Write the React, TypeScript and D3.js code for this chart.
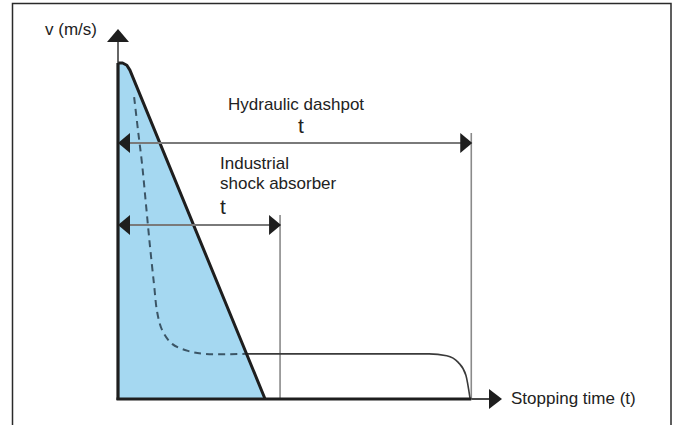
import React, { useEffect, useRef } from "react";
import * as d3 from "d3";

// time (0-100) vs velocity (0-100), arbitrary units
const absorberOutline: Array<[number, number]> = [
  [0, 0],
  [0, 90.8],
  [1.2, 90.8],
  [2.3, 90.2],
  [3.1, 88.9],
  [38.3, 0],
];

const dashpotDashed: Array<[number, number]> = [
  [4.2, 81.6],
  [5.2, 72.7],
  [6.3, 63.2],
  [7.3, 52.4],
  [8.3, 41.6],
  [9.4, 30.8],
  [10.2, 23.5],
  [11.5, 18.6],
  [14.1, 14.9],
  [18.2, 13.0],
  [22.7, 12.2],
  [33.3, 12.2],
];

const dashpotSolid: Array<[number, number]> = [
  [33.6, 12.2],
  [81.0, 12.2],
  [85.6, 11.7],
  [88.6, 9.9],
  [90.6, 6.4],
  [91.7, 0],
];

const stopTimes = [
  { label: ["Hydraulic dashpot"], t: 92, level: 69.2 },
  { label: ["Industrial", "shock absorber"], t: 42.2, level: 47.0 },
];

const axisLabels = { y: "v (m/s)", x: "Stopping time (t)" };

const W = 677;
const H = 425;

export default function App() {
  const svgRef = useRef<SVGSVGElement>(null);

  useEffect(() => {
    if (!svgRef.current) return;
    const svg = d3.select(svgRef.current);
    svg.selectAll("*").remove();

    const x = d3.scaleLinear().domain([0, 100]).range([118, 502]);
    const y = d3.scaleLinear().domain([0, 100]).range([399, 29]);
    const font = "'Liberation Sans', Arial, Helvetica, sans-serif";
    const ink = "#1e1e1e";

    svg.append("rect").attr("width", W).attr("height", H).attr("fill", "#fff");

    // frame
    svg
      .append("rect")
      .attr("x", 12.5)
      .attr("y", 3.5)
      .attr("width", 658.5)
      .attr("height", 440)
      .attr("fill", "none")
      .attr("stroke", "#2a2a2a")
      .attr("stroke-width", 1.5);

    const line = (curve: d3.CurveFactory) =>
      d3
        .line<[number, number]>()
        .x((d) => x(d[0]))
        .y((d) => y(d[1]))
        .curve(curve);

    // blue area
    svg
      .append("path")
      .attr("d", line(d3.curveLinear)(absorberOutline) + "Z")
      .attr("fill", "#a5d8f1")
      .attr("stroke", "none");

    // stop-time guide lines
    stopTimes.forEach((s) => {
      svg
        .append("line")
        .attr("x1", x(s.t))
        .attr("x2", x(s.t))
        .attr("y1", y(s.level) - 10)
        .attr("y2", y(0))
        .attr("stroke", "#8a8a8a")
        .attr("stroke-width", 1.6);
    });

    // dashpot curve
    svg
      .append("path")
      .attr("d", line(d3.curveCatmullRom)(dashpotDashed))
      .attr("fill", "none")
      .attr("stroke", "#3b5566")
      .attr("stroke-width", 2)
      .attr("stroke-dasharray", "7,5");

    svg
      .append("path")
      .attr("d", line(d3.curveMonotoneX)(dashpotSolid))
      .attr("fill", "none")
      .attr("stroke", "#3a3a3a")
      .attr("stroke-width", 1.6);

    // diagonal of the blue triangle
    svg
      .append("path")
      .attr("d", line(d3.curveLinear)(absorberOutline.slice(1)))
      .attr("fill", "none")
      .attr("stroke", ink)
      .attr("stroke-width", 3)
      .attr("stroke-linejoin", "round");

    // axes
    svg
      .append("line")
      .attr("x1", x(0))
      .attr("x2", x(0))
      .attr("y1", y(0) + 1)
      .attr("y2", y(absorberOutline[1][1]))
      .attr("stroke", ink)
      .attr("stroke-width", 3.2);
    svg
      .append("line")
      .attr("x1", x(0))
      .attr("x2", x(0))
      .attr("y1", y(absorberOutline[1][1]))
      .attr("y2", y(100) + 8)
      .attr("stroke", "#333")
      .attr("stroke-width", 1.5);
    svg
      .append("line")
      .attr("x1", x(0) - 1.5)
      .attr("x2", x(stopTimes[0].t))
      .attr("y1", y(0))
      .attr("y2", y(0))
      .attr("stroke", ink)
      .attr("stroke-width", 3.2);
    svg
      .append("line")
      .attr("x1", x(stopTimes[0].t))
      .attr("x2", x(100) - 8)
      .attr("y1", y(0))
      .attr("y2", y(0))
      .attr("stroke", "#333")
      .attr("stroke-width", 1.8);

    // axis arrowheads
    const x0 = x(0);
    const y0 = y(0);
    svg
      .append("path")
      .attr("d", `M${x0},${y(100)} L${x0 + 11},${y(100) + 13} L${x0 - 11},${y(100) + 13}Z`)
      .attr("fill", ink);
    svg
      .append("path")
      .attr("d", `M${x(100)},${y0} L${x(100) - 13},${y0 - 10} L${x(100) - 13},${y0 + 10}Z`)
      .attr("fill", ink);

    // double arrows for stopping times
    stopTimes.forEach((s) => {
      const yy = y(s.level);
      const xe = x(s.t) + 1;
      svg
        .append("line")
        .attr("x1", x0 + 6)
        .attr("x2", xe - 6)
        .attr("y1", yy)
        .attr("y2", yy)
        .attr("stroke", "#7a7a7a")
        .attr("stroke-width", 2);
      svg
        .append("path")
        .attr("d", `M${x0},${yy} L${x0 + 12},${yy - 10} L${x0 + 12},${yy + 10}Z`)
        .attr("fill", ink);
      svg
        .append("path")
        .attr("d", `M${xe},${yy} L${xe - 12},${yy - 10} L${xe - 12},${yy + 10}Z`)
        .attr("fill", ink);
    });

    // labels
    const txt = (tx: number, ty: number, s: string, size = 17, anchor = "start") =>
      svg
        .append("text")
        .attr("x", tx)
        .attr("y", ty)
        .attr("text-anchor", anchor)
        .style("font-family", font)
        .style("font-size", `${size}px`)
        .style("fill", "#222")
        .text(s);

    txt(45, 35, axisLabels.y);
    txt(511, 404, axisLabels.x);

    txt(228, 110, stopTimes[0].label[0]);
    txt(301, 133, "t", 21, "middle");

    txt(220, 169, stopTimes[1].label[0]);
    txt(220, 189, stopTimes[1].label[1]);
    txt(220, 214, "t", 21);
  }, []);

  return (
    <svg
      ref={svgRef}
      width={W}
      height={H}
      style={{ position: "absolute", left: 0, top: 0, display: "block" }}
    />
  );
}
